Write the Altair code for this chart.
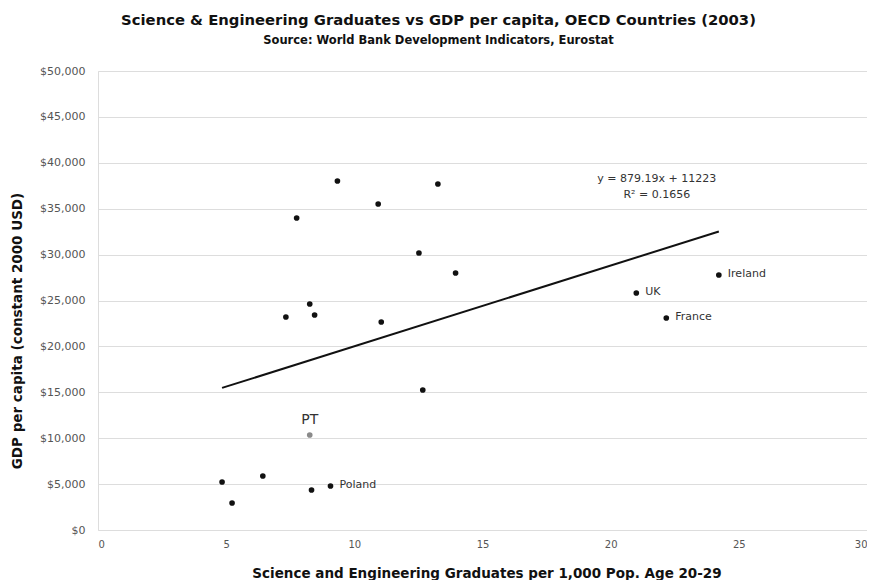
import altair as alt
import pandas as pd

# Data
grads = [4.84, 5.23, 6.43, 7.33, 7.75, 8.26, 8.45, 8.26, 8.33, 9.07, 9.34, 10.93,
         11.05, 12.52, 13.26, 12.67, 13.95, 21.0, 22.17, 24.22]
gdp = [5230, 2940, 5880, 23200, 33990, 24620, 23420, 10350, 4360, 4790, 38020, 35510,
       22660, 30170, 37690, 15250, 28000, 25820, 23090, 27780]
labels = ["", "", "", "", "", "", "", "PT", "", "Poland", "", "",
          "", "", "", "", "", "UK", "France", "Ireland"]

slope = 879.19
intercept = 11223
eq_lines = ["y = 879.19x + 11223", "R\u00b2 = 0.1656"]
eq_pos_x = 21.8
eq_pos_y = [38200, 36500]

df = pd.DataFrame({"x": grads, "y": gdp, "label": labels})
df["pt"] = df["label"] == "PT"

xmin, xmax = min(grads), max(grads)
trend = pd.DataFrame({"x": [xmin, xmax], "y": [slope * xmin + intercept, slope * xmax + intercept]})
eq = pd.DataFrame({"x": [eq_pos_x, eq_pos_x], "y": eq_pos_y, "t": eq_lines})

FONT = "DejaVu Sans"
W, H = 769, 459

xscale = alt.Scale(domain=[0, 30], nice=False, zero=True)
yscale = alt.Scale(domain=[0, 50000], nice=False)

xenc = alt.X("x:Q", scale=xscale,
             axis=alt.Axis(title="Science and Engineering Graduates per 1,000 Pop. Age 20-29",
                           values=[0, 5, 10, 15, 20, 25, 30], grid=False, ticks=False,
                           domain=False, labelPadding=9, labelFontSize=10, labelColor="#555",
                           titleFontSize=13.5, titleFontWeight="bold", titlePadding=17,
                           titleX=W / 2 + 4,
                           titleColor="#111", labelFont=FONT, titleFont=FONT))
yenc = alt.Y("y:Q", scale=yscale,
             axis=alt.Axis(title="GDP per capita (constant 2000 USD)", format="$,.0f",
                           values=list(range(0, 50001, 5000)), grid=True, gridColor="#dddddd",
                           ticks=False, domain=False, labelPadding=13, labelFontSize=11,
                           labelColor="#555", titleFontSize=13.5, titleFontWeight="bold",
                           titlePadding=15, titleY=H / 2 + 30,
                           titleColor="#111", labelFont=FONT, titleFont=FONT))

base = alt.Chart(df)

pts = base.mark_point(filled=True, size=32, opacity=1).encode(
    x=xenc, y=yenc,
    color=alt.condition("datum.pt", alt.value("#8a8a8a"), alt.value("#111111")),
)

lab_right = base.transform_filter("datum.label != '' && datum.label != 'PT'").mark_text(
    align="left", dx=9, dy=-1, fontSize=11, font=FONT, color="#333"
).encode(x="x:Q", y="y:Q", text="label:N")

lab_pt = base.transform_filter("datum.label == 'PT'").mark_text(
    align="center", dy=-15, fontSize=14, font=FONT, color="#333"
).encode(x="x:Q", y="y:Q", text="label:N")

line = alt.Chart(trend).mark_line(color="#111", strokeWidth=2).encode(x="x:Q", y="y:Q")

eqtext = alt.Chart(eq).mark_text(fontSize=11, font=FONT, color="#333").encode(
    x="x:Q", y="y:Q", text="t:N")

chart = alt.layer(line, pts, lab_right, lab_pt, eqtext).properties(
    width=W, height=H,
    autosize=alt.AutoSizeParams(type="none"),
    padding={"left": 90, "top": 63, "right": 0, "bottom": 50},
    title=alt.TitleParams(
        text="Science & Engineering Graduates vs GDP per capita, OECD Countries (2003)",
        subtitle="Source: World Bank Development Indicators, Eurostat",
        fontSize=14.8, subtitleFontSize=11.5, font=FONT, subtitleFont=FONT,
        fontWeight="bold", subtitleFontWeight="bold", color="#111", subtitleColor="#111",
        anchor="middle", dx=-44, offset=19, subtitlePadding=7,
    ),
).configure_view(stroke="#999", strokeWidth=1).configure(background="white")

chart.save("out.html", embed_options={"renderer": "svg", "actions": False})
